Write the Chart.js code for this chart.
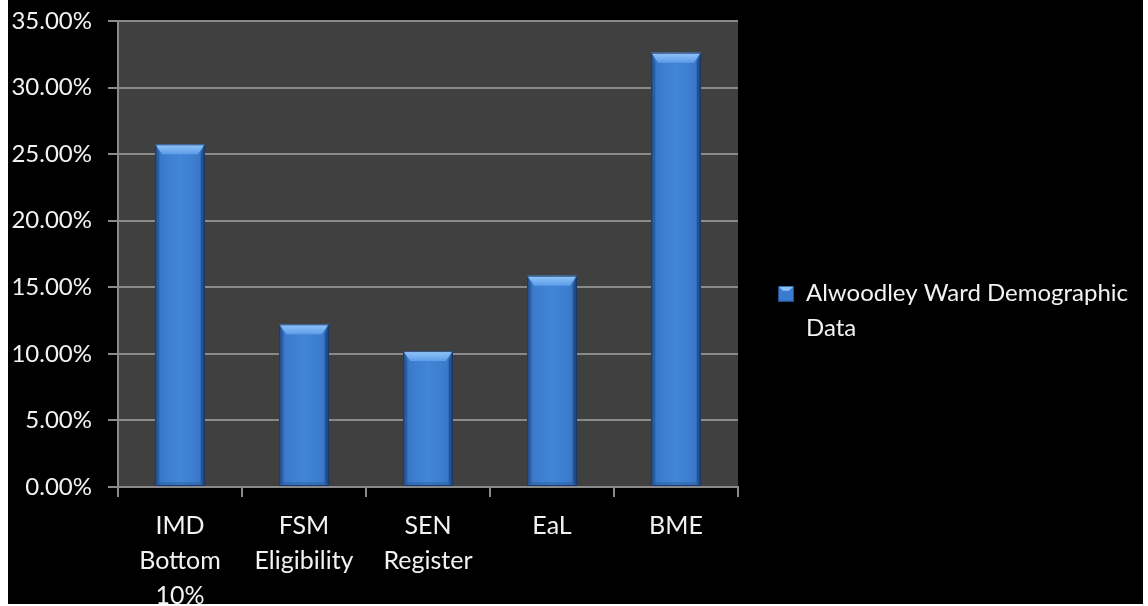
<!DOCTYPE html>
<html>
<head>
<meta charset="utf-8">
<script src="https://cdn.jsdelivr.net/npm/chart.js@4.4.1/dist/chart.umd.min.js"></script>
<style>
  html, body { margin: 0; padding: 0; background: #fff; }
  #frame {
    position: absolute; left: 8px; top: 0;
    width: 1135px; height: 604px;
    background: #000; overflow: hidden;
  }
  #box { position: relative; width: 1135px; height: 612px; }
</style>
</head>
<body>
<div id="frame">
  <div id="box"><canvas id="chart"></canvas></div>
</div>
<script>
// --- Data ---
const categories = [["IMD", "Bottom", "10%"], ["FSM", "Eligibility"], ["SEN", "Register"], "EaL", "BME"];
const seriesName = ["Alwoodley Ward Demographic", "Data"];
const seriesValues = [25.74, 12.22, 10.21, 15.87, 32.62]; // percent
const yMax = 35;
const yStep = 5;

const FONT = "Lato, 'Open Sans', sans-serif";
const TEXT = "#f2f2f2";

// grey plot background behind the bars
const plotBackground = {
  id: "plotBackground",
  beforeDraw(chart) {
    const { ctx, chartArea: a } = chart;
    ctx.save();
    ctx.fillStyle = "#404040";
    ctx.fillRect(a.left, a.top, a.right - a.left, a.bottom - a.top);
    ctx.restore();
  }
};

// Excel-style bevel on top of every bar
const bevel = {
  id: "bevel",
  afterDatasetsDraw(chart) {
    const ctx = chart.ctx;
    chart.getDatasetMeta(0).data.forEach(el => {
      const { x, y, base, width } = el.getProps(["x", "y", "base", "width"], true);
      const l = x - width / 2, r = x + width / 2, t = y, b = base;
      const ex = 7, ey = 10, s = 4;
      ctx.save();

      // body: darker towards the sides
      const body = ctx.createLinearGradient(l, 0, r, 0);
      body.addColorStop(0, "#2c5fa5");
      body.addColorStop(0.12, "#3b7acb");
      body.addColorStop(0.5, "#4286d8");
      body.addColorStop(0.88, "#3b7acb");
      body.addColorStop(1, "#2a5a9c");
      ctx.fillStyle = body;
      ctx.fillRect(l, t, width, b - t);

      // left side
      ctx.fillStyle = "rgba(25,65,125,0.35)";
      ctx.beginPath();
      ctx.moveTo(l, t); ctx.lineTo(l + s, t + ey); ctx.lineTo(l + s, b - s); ctx.lineTo(l, b);
      ctx.closePath(); ctx.fill();
      // right side
      ctx.fillStyle = "rgba(20,55,110,0.5)";
      ctx.beginPath();
      ctx.moveTo(r, t); ctx.lineTo(r - s, t + ey); ctx.lineTo(r - s, b - s); ctx.lineTo(r, b);
      ctx.closePath(); ctx.fill();
      // bottom
      ctx.fillStyle = "rgba(30,70,130,0.3)";
      ctx.beginPath();
      ctx.moveTo(l, b); ctx.lineTo(l + s, b - s); ctx.lineTo(r - s, b - s); ctx.lineTo(r, b);
      ctx.closePath(); ctx.fill();
      // top highlight
      const top = ctx.createLinearGradient(0, t, 0, t + ey);
      top.addColorStop(0, "#93c6f9");
      top.addColorStop(1, "#5c9ce8");
      ctx.fillStyle = top;
      ctx.beginPath();
      ctx.moveTo(l, t); ctx.lineTo(r, t); ctx.lineTo(r - ex, t + ey); ctx.lineTo(l + ex, t + ey);
      ctx.closePath(); ctx.fill();

      ctx.strokeStyle = "rgba(20,45,90,0.8)";
      ctx.lineWidth = 1;
      ctx.strokeRect(l + 0.5, t + 0.5, width - 1, b - t - 1);
      ctx.restore();
    });
  }
};

// small bevelled square for the legend
function legendSwatch() {
  const c = document.createElement("canvas");
  c.width = 16; c.height = 16;
  const g = c.getContext("2d");
  g.fillStyle = "#3b7bd0";
  g.fillRect(0, 0, 16, 16);
  g.fillStyle = "#8cc2f8";
  g.beginPath(); g.moveTo(0, 0); g.lineTo(16, 0); g.lineTo(11, 5); g.lineTo(5, 5); g.closePath(); g.fill();
  g.strokeStyle = "#22508f";
  g.strokeRect(0.5, 0.5, 15, 15);
  return c;
}

const ctx = document.getElementById("chart").getContext("2d");

new Chart(ctx, {
  type: "bar",
  data: {
    labels: categories,
    datasets: [{
      label: seriesName,
      data: seriesValues,
      backgroundColor: "#3d7dd0",
      borderWidth: 0,
      barPercentage: 0.4,
      categoryPercentage: 1.0,
      pointStyle: legendSwatch()
    }]
  },
  options: {
    responsive: true,
    maintainAspectRatio: false,
    animation: false,
    layout: { padding: { top: 21, right: 7, bottom: 0, left: 0 } },
    plugins: {
      tooltip: { enabled: false },
      legend: {
        position: "right",
        maxWidth: 398,
        labels: {
          color: TEXT,
          font: { family: FONT, size: 24, lineHeight: 1.45 },
          usePointStyle: true,
          boxWidth: 16,
          padding: 40
        }
      }
    },
    scales: {
      x: {
        afterFit(scale) { scale.height = 612 - 487; },
        grid: {
          offset: true,
          drawOnChartArea: false,
          drawTicks: true,
          tickLength: 10,
          color: "#8a8a8a",
          lineWidth: 2
        },
        border: { color: "#8a8a8a", width: 2 },
        ticks: {
          color: TEXT,
          maxRotation: 0,
          autoSkip: false,
          padding: 11,
          font: { family: FONT, size: 25, lineHeight: 1.4 }
        }
      },
      y: {
        min: 0,
        max: yMax,
        afterFit(scale) {
          scale.width = 110;
          scale.paddingTop = 0;
          scale.paddingBottom = 0;
        },
        grid: {
          color: "#8a8a8a",
          lineWidth: 2,
          tickLength: 10
        },
        border: { color: "#8a8a8a", width: 2 },
        ticks: {
          stepSize: yStep,
          color: TEXT,
          padding: 16,
          font: { family: FONT, size: 24 },
          callback: v => v.toFixed(2) + "%"
        }
      }
    }
  },
  plugins: [plotBackground, bevel]
});
</script>
</body>
</html>
